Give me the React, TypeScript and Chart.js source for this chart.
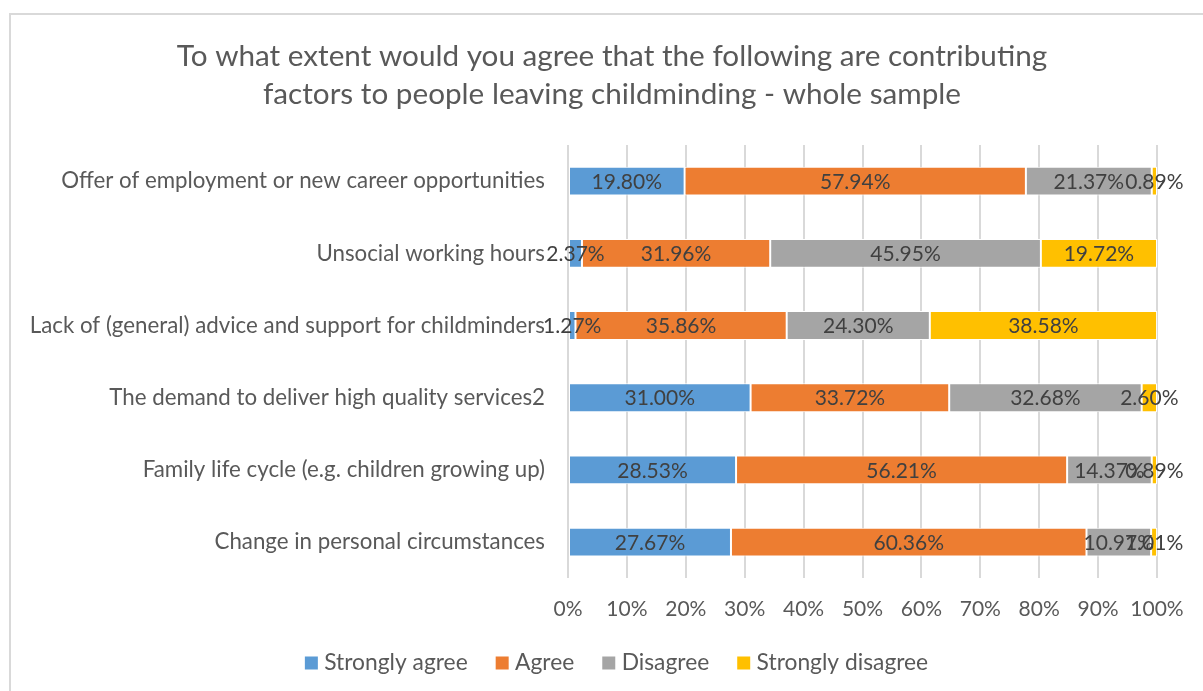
import React, { useEffect, useRef } from "react";
import { Chart, registerables } from "chart.js";

Chart.register(...registerables);

const categories = [
  "Offer of employment or new career opportunities",
  "Unsocial working hours",
  "Lack of (general) advice and support for childminders",
  "The demand to deliver high quality services2",
  "Family life cycle (e.g. children growing up)",
  "Change in personal circumstances",
];
const stronglyAgree = [19.8, 2.37, 1.27, 31.0, 28.53, 27.67];
const agree = [57.94, 31.96, 35.86, 33.72, 56.21, 60.36];
const disagree = [21.37, 45.95, 24.3, 32.68, 14.37, 10.97];
const stronglyDisagree = [0.89, 19.72, 38.58, 2.6, 0.89, 1.01];
const seriesNames = ["Strongly agree", "Agree", "Disagree", "Strongly disagree"];
const seriesColors = ["#5B9BD5", "#ED7D31", "#A5A5A5", "#FFC000"];
const titleLines = [
  "To what extent would you agree that the following are contributing",
  "factors to people leaving childminding - whole sample",
];

const FONT = "Lato, 'Open Sans', sans-serif";

const dataLabelPlugin = {
  id: "dataLabels",
  afterDatasetsDraw(chart: any) {
    const ctx = chart.ctx;
    ctx.save();
    ctx.font = `21px ${FONT}`;
    ctx.fillStyle = "#404040";
    ctx.textAlign = "center";
    ctx.textBaseline = "middle";
    chart.data.datasets.forEach((ds: any, di: number) => {
      const meta = chart.getDatasetMeta(di);
      meta.data.forEach((el: any, i: number) => {
        const v = ds.data[i];
        const cx = (el.x + el.base) / 2;
        ctx.fillText(v.toFixed(2) + "%", cx, el.y + 1);
      });
    });
    ctx.restore();
  },
};

const centerPlugin = {
  id: "centerBlocks",
  afterLayout(chart: any) {
    if (chart.titleBlock) {
      chart.titleBlock.left = 67;
      chart.titleBlock.right = 1157;
    }
    if (chart.legend) {
      chart.legend.left = 81;
      chart.legend.right = 1157;
    }
  },
};

export default function App() {
  const ref = useRef<HTMLCanvasElement>(null);
  useEffect(() => {
    if (!ref.current) return;
    const allSeries = [stronglyAgree, agree, disagree, stronglyDisagree];
    const chart = new Chart(ref.current, {
      type: "bar",
      data: {
        labels: categories,
        datasets: allSeries.map((d, i) => ({
          label: seriesNames[i],
          data: d,
          backgroundColor: seriesColors[i],
          borderColor: "#ffffff",
          borderWidth: 1,
          borderSkipped: false,
          barPercentage: 0.4,
          categoryPercentage: 1,
        })),
      },
      options: {
        indexAxis: "y",
        responsive: false,
        animation: false,
        devicePixelRatio: 1,
        layout: { padding: { top: 0, right: 46, bottom: 6.5, left: 0 } },
        scales: {
          x: {
            stacked: true,
            min: 0,
            max: 100,
            ticks: {
              stepSize: 10,
              callback: (v: any) => v + "%",
              color: "#595959",
              font: { family: FONT, size: 21 },
              padding: 18,
              maxRotation: 0,
              minRotation: 0,
              autoSkip: false,
            },
            grid: { color: "#d9d9d9", lineWidth: 2, drawTicks: false },
            border: { display: false },
            afterFit: (s: any) => {
              s.height = 40.5;
            },
          },
          y: {
            stacked: true,
            ticks: {
              color: "#595959",
              font: { family: FONT, size: 22.3 },
              padding: 23,
              autoSkip: false,
            },
            grid: { display: false, drawTicks: false },
            border: { display: false },
            afterFit: (s: any) => {
              s.width = 568;
            },
          },
        },
        plugins: {
          title: {
            display: true,
            text: titleLines,
            color: "#595959",
            font: { family: FONT, size: 29.7, weight: "normal", lineHeight: 1.28 },
            padding: { top: 37.5, bottom: 31.5 },
          },
          legend: {
            position: "bottom",
            labels: {
              color: "#595959",
              font: { family: FONT, size: 22.8 },
              usePointStyle: true,
              pointStyle: "rect",
              boxWidth: 3,
              boxHeight: 13,
              padding: 33,
              generateLabels: (c: any) =>
                c.data.datasets.map((ds: any, i: number) => ({
                  text: ds.label,
                  fillStyle: ds.backgroundColor,
                  strokeStyle: ds.backgroundColor,
                  lineWidth: 0,
                  pointStyle: "rect",
                  fontColor: "#595959",
                  hidden: false,
                  datasetIndex: i,
                })),
            },
          },
          tooltip: { enabled: false },
        },
      },
      plugins: [dataLabelPlugin, centerPlugin],
    } as any);
    return () => chart.destroy();
  }, []);

  return (
    <div
      style={{
        position: "fixed",
        left: 0,
        top: 0,
        width: 1203,
        height: 691,
        overflow: "hidden",
        background: "#ffffff",
      }}
    >
      <div
        style={{
          position: "absolute",
          left: 9,
          top: 13,
          width: 1400,
          height: 900,
          border: "2px solid #d9d9d9",
        }}
      />
      <canvas
        ref={ref}
        width={1203}
        height={691}
        style={{ position: "absolute", left: 0, top: 0, width: 1203, height: 691 }}
      />
    </div>
  );
}
